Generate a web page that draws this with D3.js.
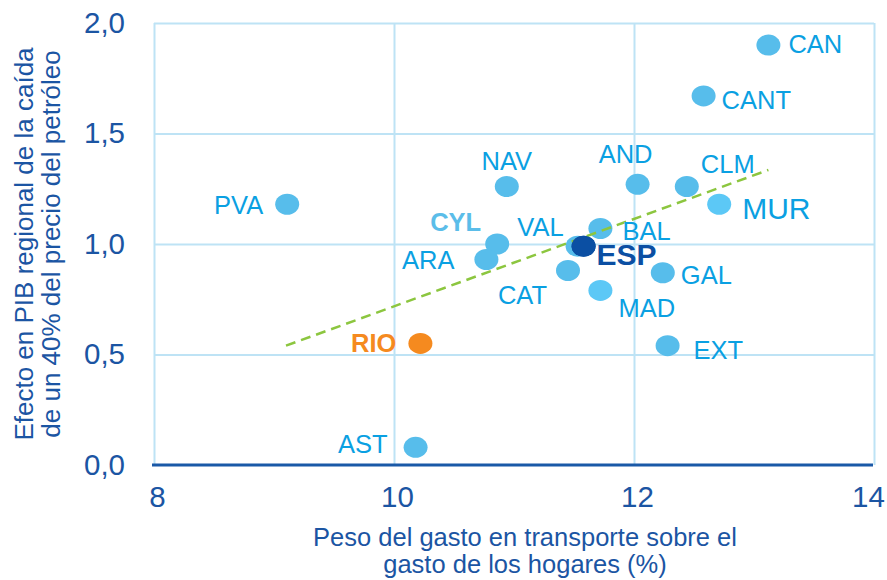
<!DOCTYPE html>
<html>
<head>
<meta charset="utf-8">
<script src="https://cdn.jsdelivr.net/npm/d3@7"></script>
<style>
    body { margin: 0; background: #fff; }
    svg { display: block; font-family: "Liberation Sans", Arial, sans-serif; }
</style>
</head>
<body>
<div id="chart"></div>
<script>
// Regions (labels), transport weight (%) and GDP effect
var regions = ["PVA", "NAV", "CYL", "ARA", "VAL", "CAT", "BAL", "MAD", "AND", "CLM", "GAL", "EXT", "CANT", "CAN", "MUR", "RIO", "AST", "ESP"];
var gastoTransporte = [9.11, 10.94, 10.86, 10.77, 11.53, 11.45, 11.72, 11.72, 12.03, 12.44, 12.24, 12.28, 12.58, 13.12, 12.71, 10.22, 10.18, 11.58];
var efectoPib = [1.18, 1.26, 1.00, 0.93, 0.99, 0.88, 1.07, 0.79, 1.27, 1.26, 0.87, 0.54, 1.67, 1.90, 1.18, 0.55, 0.08, 0.99];
var xTicks = [8, 10, 12, 14];
var yTicks = [0, 0.5, 1.0, 1.5, 2.0];
var trendX = [9.1, 13.12];
var trendY = [0.54, 1.335];

// label placement relative to the point: [dx, dy, anchor]
var labelPos = {
    PVA: [-24, 10, "end"], NAV: [0, -17, "middle"], CYL: [-16, -13, "end"],
    ARA: [-32, 10, "end"], VAL: [-14, -10, "end"], CAT: [-21, 33, "end"],
    BAL: [22, 11, "start"], MAD: [18, 27, "start"], AND: [-12, -21, "middle"],
    CLM: [14, -14, "start"], GAL: [18, 11, "start"], EXT: [26, 13, "start"],
    CANT: [18, 13, "start"], CAN: [20, 8, "start"], MUR: [23, 15, "start"],
    RIO: [-24, 9, "end"], AST: [-28, 6, "end"], ESP: [13, 19, "start"]
};

var width = 887, height = 580;
var margin = { top: 23, right: 13, bottom: 115, left: 154 };
var innerW = width - margin.left - margin.right;
var innerH = height - margin.top - margin.bottom;

var esLocale = d3.formatLocale({ decimal: ",", thousands: ".", grouping: [3], currency: ["", " €"] });
var fmt1 = esLocale.format(".1f");

var svg = d3.select("#chart").append("svg")
    .attr("width", width)
    .attr("height", height);

var g = svg.append("g")
    .attr("transform", "translate(" + margin.left + "," + margin.top + ")");

var x = d3.scaleLinear().domain([8, 14]).range([0, innerW]);
var y = d3.scaleLinear().domain([0, 2]).range([innerH, 0]);

// grid
g.append("g")
    .attr("class", "grid")
    .attr("transform", "translate(0," + innerH + ")")
    .call(d3.axisBottom(x).tickValues(xTicks).tickSize(-innerH).tickFormat(""))
    .call(s => s.select(".domain").remove());
g.append("g")
    .attr("class", "grid")
    .call(d3.axisLeft(y).tickValues(yTicks.filter(v => v > 0)).tickSize(-innerW).tickFormat(""))
    .call(s => s.select(".domain").remove());
g.selectAll(".grid line")
    .attr("stroke", "#bee3f5")
    .attr("stroke-width", 2);

// bottom axis line
g.append("line")
    .attr("x1", x(8) - 2).attr("x2", x(14) - 1)
    .attr("y1", y(0)).attr("y2", y(0))
    .attr("stroke", "#1a59a7")
    .attr("stroke-width", 3);

// tick labels
var xAxis = g.append("g")
    .attr("transform", "translate(0," + innerH + ")")
    .call(d3.axisBottom(x).tickValues(xTicks).tickSize(0).tickPadding(21).tickFormat(d3.format("d")));
var yAxis = g.append("g")
    .call(d3.axisLeft(y).tickValues(yTicks).tickSize(0).tickPadding(29).tickFormat(fmt1));
[xAxis, yAxis].forEach(a => {
    a.select(".domain").remove();
    a.selectAll("text")
        .attr("fill", "#1b55a3")
        .style("font-family", "'Liberation Sans', Arial, sans-serif")
        .style("font-size", "29.5px");
});
// last x label is pulled inside the frame, the others sit a little right
xAxis.selectAll("text").attr("dx", (d, i, n) => i === n.length - 1 ? -6 : 3);

// points
var points = regions.map((r, i) => ({ name: r, x: gastoTransporte[i], y: efectoPib[i] }));

function fillFor(name) {
    if (name === "ESP") return "#0b4fa3";
    if (name === "RIO") return "#f58a1f";
    if (name === "MUR" || name === "MAD") return "#5cc8f6";
    return "#57bdeb";
}

g.selectAll(".pt")
    .data(points)
    .enter()
    .append("ellipse")
    .attr("class", "pt")
    .attr("cx", d => x(d.x))
    .attr("cy", d => y(d.y))
    .attr("rx", 12)
    .attr("ry", 10.5)
    .attr("fill", d => fillFor(d.name));

// trend line
g.append("line")
    .attr("x1", x(trendX[0])).attr("y1", y(trendY[0]))
    .attr("x2", x(trendX[1])).attr("y2", y(trendY[1]))
    .attr("stroke", "#8cc63f")
    .attr("stroke-width", 2.5)
    .attr("stroke-dasharray", "10,6");

// ESP on top of the line
g.selectAll(".esp")
    .data(points.filter(d => d.name === "ESP"))
    .enter()
    .append("ellipse")
    .attr("cx", d => x(d.x))
    .attr("cy", d => y(d.y))
    .attr("rx", 12)
    .attr("ry", 10.5)
    .attr("fill", "#0b4fa3");

// labels
g.selectAll(".lbl")
    .data(points)
    .enter()
    .append("text")
    .attr("class", "lbl")
    .attr("x", d => x(d.x) + labelPos[d.name][0])
    .attr("y", d => y(d.y) + labelPos[d.name][1])
    .attr("text-anchor", d => labelPos[d.name][2])
    .style("font-size", d => (d.name === "MUR" || d.name === "ESP") ? "30px" : "25.5px")
    .style("font-weight", d => (d.name === "ESP" || d.name === "RIO" || d.name === "CYL") ? "bold" : "normal")
    .attr("fill", d => {
        if (d.name === "ESP") return "#0b4fa3";
        if (d.name === "RIO") return "#f58a1f";
        if (d.name === "CYL") return "#5bbde9";
        return "#0aa0e2";
    })
    .text(d => d.name);

// axis titles
var xTitle = svg.append("text")
    .attr("text-anchor", "middle")
    .attr("fill", "#1b55a3")
    .style("font-size", "25.5px");
xTitle.append("tspan").attr("x", 525).attr("y", 546).text("Peso del gasto en transporte sobre el");
xTitle.append("tspan").attr("x", 525).attr("y", 573).text("gasto de los hogares (%)");

var yTitle = svg.append("text")
    .attr("text-anchor", "middle")
    .attr("fill", "#1b55a3")
    .attr("transform", "translate(0,244) rotate(-90)")
    .style("font-size", "26px");
yTitle.append("tspan").attr("x", 0).attr("y", 33).text("Efecto en PIB regional de la caída");
yTitle.append("tspan").attr("x", 0).attr("y", 60).text("de un 40% del precio del petróleo");
</script>
</body>
</html>
